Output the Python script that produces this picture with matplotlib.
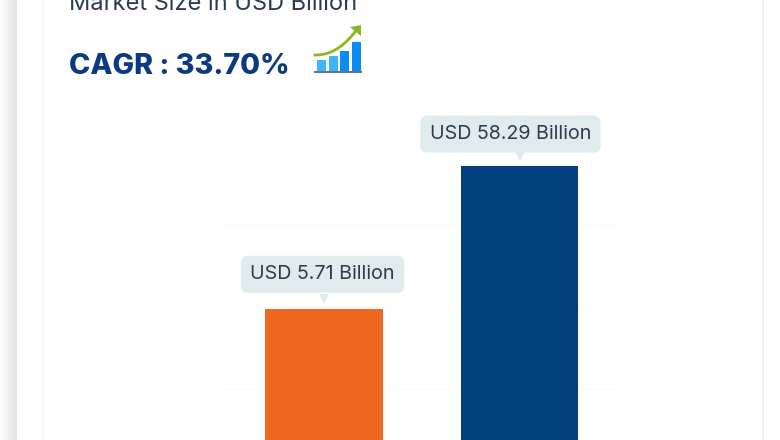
"""Market size bar chart, cropped from a report card."""

import numpy as np
import matplotlib
matplotlib.use('Agg')
import matplotlib.pyplot as plt
from matplotlib.patches import Rectangle, Polygon
from matplotlib.transforms import offset_copy

years = ['start', 'end']
market_size = [5.71, 58.29]
bar_labels = ['USD 5.71 Billion', 'USD 58.29 Billion']
bar_colors = ['#EE671F', '#044080']
title_text = 'Market Size in USD Billion'
cagr_text = 'CAGR : 33.70%'
grid_rows = [225, 307, 389]

W, H = 780, 440
plt.rcParams['font.family'] = ['Inter', 'DejaVu Sans']

fig = plt.figure(figsize=(W / 100, H / 100), dpi=100, facecolor='white')

# page shadow left of the card
shadow = fig.add_axes([0, 0, 17 / W, 1])
shadow.imshow(np.linspace(1, 0.88, 30)[None, :], cmap='gray', vmin=0, vmax=1, aspect='auto')
shadow.axis('off')

# pixel overlay for the card frame, the title and the icon
px = fig.add_axes([0, 0, 1, 1], zorder=1)
px.set_xlim(0, W)
px.set_ylim(H, 0)
px.axis('off')
px.axvline(43, color='#f6f6f6', lw=1)
px.axvline(763, color='#f1f1f1', lw=1.5)
for y in grid_rows:
    px.plot([225, 615], [y, y], color='#fafafa', lw=1)

px.text(69, 10.5, title_text, fontsize=17, color='#2b3a55', va='baseline', ha='left')
px.text(69, 74, cagr_text, fontsize=20.7, fontweight='heavy', color='#0B3A82', va='baseline', ha='left')

# growth icon
for x0, top, col in [(317, 60, '#3FB4FF'), (329, 56, '#3FB4FF'), (340, 51, '#0A8CF5'), (352, 42, '#0A8CF5')]:
    px.add_patch(Rectangle((x0, top), 9, 71 - top, color=col, lw=0))
px.add_patch(Rectangle((314, 71), 48, 2, color='#5A7892', lw=0))
t = np.linspace(0, 1, 30)
px.plot(315 + 43 * t, 55 - 27 * t ** 2.2, color='#8DB91E', lw=2)
px.add_patch(Polygon([[350, 27], [361, 25], [361, 36]], closed=True, color='#8DB91E', lw=0))

# chart: log axis, bars run off the bottom of the crop
ax = fig.add_axes([0, 0, 1, 1], zorder=2)
ax.patch.set_alpha(0)
ax.set_yscale('log')
ax.set_xlim(-1.657, 2.332)
ax.set_ylim(0.6795, 864.9)
ax.axis('off')

positions = np.arange(len(years))
ax.bar(positions, market_size, width=0.6, bottom=0.01, color=bar_colors, edgecolor='none')

# bubbles sit a little left of the bars, the tails stay centred
label_shift = [(-1, 25), (-6.5, 23)]
for pos, val, label, shift in zip(positions, market_size, bar_labels, label_shift):
    tail = offset_copy(ax.transData, fig=fig, y=10, units='dots')
    ax.plot([pos], [val], marker='v', ms=7, mew=0, color='#E0EBEE', transform=tail)
    ax.annotate(label, (pos, val), xytext=shift, textcoords='offset points',
                ha='center', va='center', fontsize=14.2, color='#2F3B4C',
                bbox=dict(boxstyle='round,pad=0.48,rounding_size=0.35', fc='#E0EBEE', ec='none'))

plt.savefig('out.png', dpi=100)
